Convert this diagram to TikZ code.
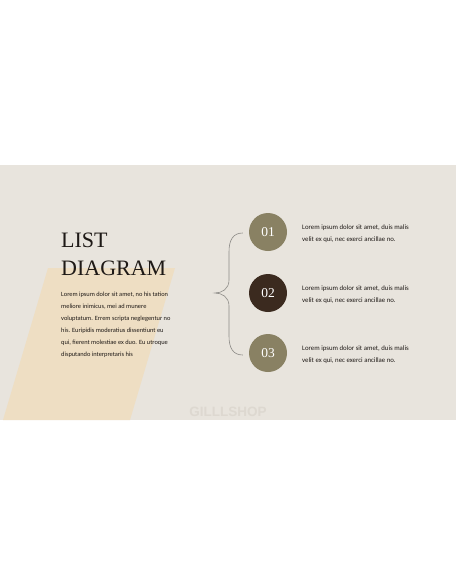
\documentclass[tikz,border=0pt]{standalone}
\usepackage{fontspec}
\setmainfont{Liberation Serif}
\newfontfamily\bodyfont{Carlito}
\newfontfamily\markfont{Liberation Sans}
\usetikzlibrary{calc}

\definecolor{slidebg}{RGB}{232,228,221}
\definecolor{sandbar}{RGB}{238,222,195}
\definecolor{olive}{RGB}{137,129,99}
\definecolor{darkbrown}{RGB}{59,42,31}
\definecolor{inktext}{RGB}{30,25,22}
\definecolor{bracegray}{RGB}{140,138,134}
\definecolor{markgray}{RGB}{221,216,208}

\tikzset{
  numcircle/.style={circle, minimum size=38pt, inner sep=0pt, text=white,
    font=\fontsize{13.5}{13.5}\selectfont},
  itemtext/.style={anchor=north west, inner sep=0pt, align=left, text=inktext,
    font=\bodyfont\fontsize{6.4}{12}\selectfont}
}

\begin{document}
\begin{tikzpicture}[x=1pt,y=-1pt]
\useasboundingbox (0,0) rectangle (456,586);
% Fondo de la diapositiva
\fill[white] (0,0) rectangle (456,586);
\fill[slidebg] (0,165) rectangle (456,420);
\fill[sandbar] (48,268) -- (175,268) -- (130,420) -- (3,420) -- cycle;

% Titulo y texto
\node[anchor=base west, inner sep=0pt, text=inktext, font=\fontsize{22}{28}\selectfont] (lst) at (61,247) {LIST};
\node[anchor=base west, inner sep=0pt, text=inktext, font=\fontsize{22}{28}\selectfont] (dgm) at (61,275) {DIAGRAM};
\node[itemtext] (intro) at (61,292) {Lorem ipsum dolor sit amet, no his tation\\
meliore inimicus, mei ad munere\\
voluptatum. Errem scripta neglegentur no\\
his. Euripidis moderatius dissentiunt eu\\
qui, fierent molestiae ex duo. Eu utroque\\
disputando interpretaris his};

% Circulos numerados
\node[numcircle, fill=olive] (c1) at (268,232) {01};
\node[numcircle, fill=darkbrown] (c2) at (268,293) {02};
\node[numcircle, fill=olive] (c3) at (268,353) {03};

\node[itemtext, font=\bodyfont\fontsize{6.8}{12}\selectfont] (t1) at (302,225) {Lorem ipsum dolor sit amet, duis malis\\velit ex qui, nec exerci ancillae no.};
\node[itemtext, font=\bodyfont\fontsize{6.8}{12}\selectfont] (t2) at (302,286) {Lorem ipsum dolor sit amet, duis malis\\velit ex qui, nec exerci ancillae no.};
\node[itemtext, font=\bodyfont\fontsize{6.8}{12}\selectfont] (t3) at (302,346) {Lorem ipsum dolor sit amet, duis malis\\velit ex qui, nec exerci ancillae no.};

% Llave
\coordinate (btop) at ($(c1.west)+(-6,1)$);
\coordinate (btip) at ($(c2.west)+(-34,0)$);
\coordinate (bbot) at ($(c3.west)+(-6,2)$);
\draw[bracegray, line width=0.6pt] (btop) .. controls (233,233) and (229,240) .. (229,252)
  -- (229,280) .. controls (229,289) and (222,293) .. (btip)
  .. controls (222,293) and (229,297) .. (229,306)
  -- (229,336) .. controls (229,348) and (233,355) .. (bbot);

% Marca de agua
\node[text=markgray, font=\markfont\bfseries\fontsize{13.5}{13.5}\selectfont] (mark) at (228,412) {GILLLSHOP};
\end{tikzpicture}
\end{document}
